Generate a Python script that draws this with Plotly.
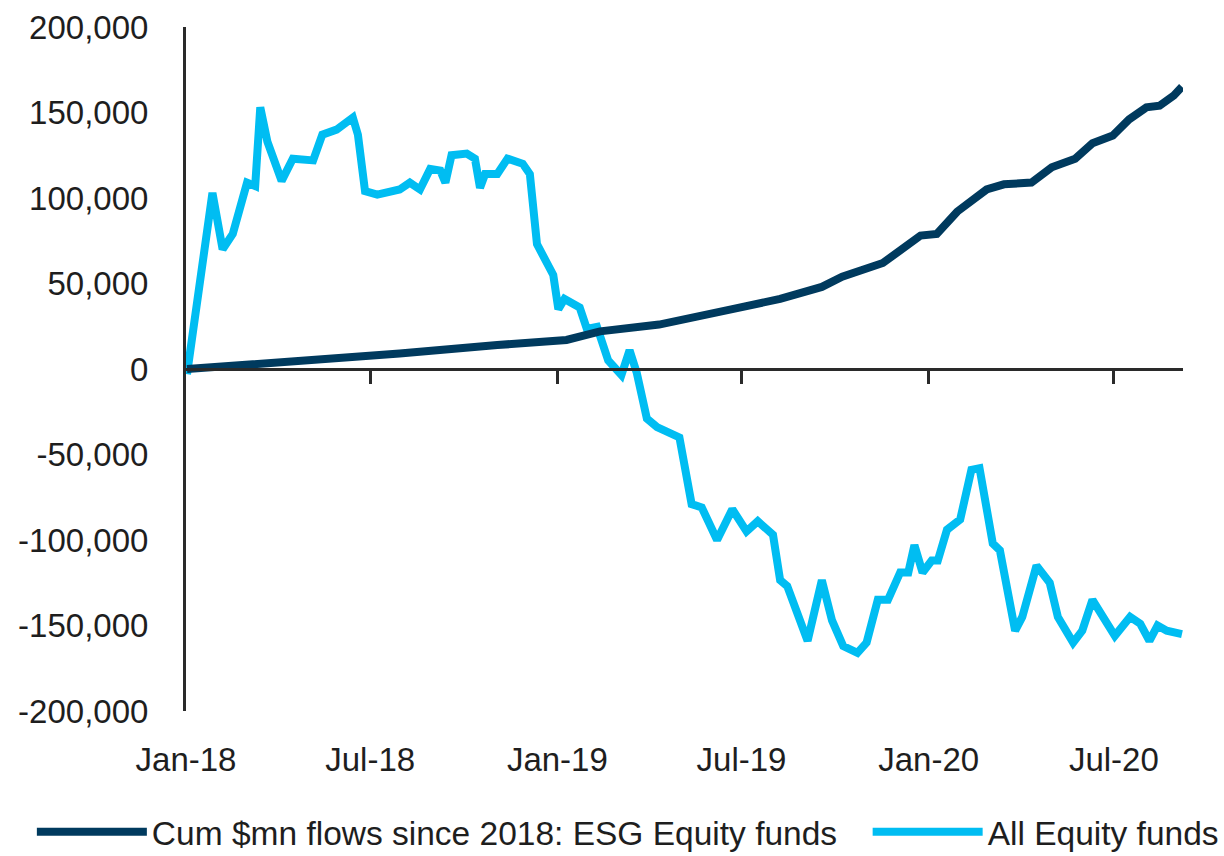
import plotly.graph_objects as go

# ---------------- data ----------------
esg_dates = ["2018-01-02", "2018-04-01", "2018-07-01", "2018-07-30", "2018-11-03",
             "2019-01-10", "2019-02-12", "2019-04-11", "2019-06-22", "2019-08-08",
             "2019-09-18", "2019-10-08", "2019-11-17", "2019-11-30", "2019-12-24",
             "2020-01-09", "2020-01-29", "2020-02-27", "2020-03-15", "2020-04-11",
             "2020-05-01", "2020-05-24", "2020-06-10", "2020-06-30", "2020-07-16",
             "2020-08-02", "2020-08-15", "2020-08-29", "2020-09-06"]
esg_values = [0, 4000, 7000, 9000, 14000,
              17000, 22000, 26000, 35000, 41000,
              48000, 54000, 62000, 68000, 78000,
              79000, 92000, 105000, 108000, 109000,
              118000, 123000, 132000, 136500, 146000,
              153000, 154000, 160000, 165000]

all_dates = ["2018-01-02", "2018-01-27", "2018-02-06", "2018-02-16", "2018-03-02",
             "2018-03-10", "2018-03-15", "2018-03-22", "2018-04-05", "2018-04-16",
             "2018-05-06", "2018-05-15", "2018-05-29", "2018-06-14", "2018-06-19",
             "2018-06-26", "2018-07-08", "2018-07-30", "2018-08-09", "2018-08-19",
             "2018-08-29", "2018-09-08", "2018-09-13", "2018-09-19", "2018-10-04",
             "2018-10-12", "2018-10-17", "2018-10-22", "2018-11-03", "2018-11-13",
             "2018-11-28", "2018-12-05", "2018-12-12", "2018-12-22", "2018-12-28",
             "2019-01-02", "2019-01-08", "2019-01-23", "2019-01-30", "2019-02-09",
             "2019-02-20", "2019-03-05", "2019-03-13", "2019-03-20", "2019-03-30",
             "2019-04-09", "2019-05-01", "2019-05-13", "2019-05-23", "2019-06-07",
             "2019-06-22", "2019-07-06", "2019-07-17", "2019-08-01", "2019-08-08",
             "2019-08-15", "2019-09-04", "2019-09-18", "2019-09-28", "2019-10-09",
             "2019-10-23", "2019-11-01", "2019-11-12", "2019-11-22", "2019-12-04",
             "2019-12-12", "2019-12-18", "2019-12-26", "2020-01-04", "2020-01-10",
             "2020-01-19", "2020-02-01", "2020-02-12", "2020-02-20", "2020-03-04",
             "2020-03-11", "2020-03-26", "2020-04-02", "2020-04-16", "2020-04-29",
             "2020-05-07", "2020-05-22", "2020-05-31", "2020-06-10", "2020-06-19",
             "2020-07-02", "2020-07-17", "2020-07-27", "2020-08-05", "2020-08-13",
             "2020-08-22", "2020-09-06"]
all_values = [-3000, 103000, 70000, 79000, 109000,
              107000, 153000, 133000, 110000, 123000,
              122000, 137000, 140000, 147000, 137000,
              104000, 102000, 105000, 109000, 105000,
              117000, 116000, 109000, 125000, 126000,
              123000, 106000, 114000, 114000, 123000,
              120000, 114000, 73000, 61000, 55000,
              35000, 41000, 36000, 23500, 24700,
              5000, -3500, 11000, -2000, -29000,
              -34000, -40000, -79000, -81000, -100000,
              -82000, -95000, -89000, -97000, -123500,
              -127000, -159000, -123500, -147000, -162000,
              -166000, -160000, -135000, -135000, -119000,
              -119000, -103000, -119000, -112000, -112000,
              -94000, -88000, -59000, -58000, -102000,
              -106000, -153000, -145000, -115000, -125000,
              -145000, -160000, -153000, -135000, -143000,
              -156000, -145000, -149000, -159000, -150000,
              -153000, -155000]

series_names = ["Cum $mn flows since 2018: ESG Equity funds", "All Equity funds"]
series_colors = ["#003A5E", "#00BDF2"]

x_tick_dates = ["2018-01-01", "2018-07-01", "2019-01-01", "2019-07-01", "2020-01-01", "2020-07-01"]
x_tick_labels = ["Jan-18", "Jul-18", "Jan-19", "Jul-19", "Jan-20", "Jul-20"]
y_tick_vals = [200000, 150000, 100000, 50000, 0, -50000, -100000, -150000, -200000]
y_tick_labels = ["200,000", "150,000", "100,000", "50,000", "0", "-50,000", "-100,000", "-150,000", "-200,000"]

# ---------------- figure ----------------
FONT = "Liberation Sans, Arial, sans-serif"
TXT = "#1e1e1e"
AXC = "#2a2a2a"

fig = go.Figure()
fig.add_trace(go.Scatter(x=esg_dates, y=esg_values, mode="lines", name=series_names[0],
                         xaxis="x2", yaxis="y", legend="legend",
                         line=dict(color=series_colors[0], width=8)))
fig.add_trace(go.Scatter(x=all_dates, y=all_values, mode="lines", name=series_names[1],
                         xaxis="x", yaxis="y", legend="legend2",
                         line=dict(color=series_colors[1], width=8)))

x_range = ["2018-01-01", "2020-09-07"]
leg_common = dict(orientation="h", xanchor="left", yanchor="middle", y=-0.1769,
                  itemwidth=110, font=dict(size=33.5, color=TXT),
                  bgcolor="rgba(0,0,0,0)", itemclick=False, itemdoubleclick=False)

fig.update_layout(
    width=1224, height=856,
    margin=dict(l=186, r=41, t=27, b=145, autoexpand=False),
    paper_bgcolor="white", plot_bgcolor="white",
    font=dict(family=FONT, size=33, color=TXT),
    showlegend=True,
    legend=dict(x=-0.1546, **leg_common),
    legend2=dict(x=0.6837, **leg_common),
    xaxis=dict(range=x_range, showgrid=False, zeroline=False, showline=False,
               tickmode="array", tickvals=x_tick_dates, ticktext=x_tick_labels,
               ticks="", ticklabelstandoff=26, tickfont=dict(size=33, color=TXT)),
    xaxis2=dict(matches="x", overlaying="x", anchor="free", position=0.5,
                showgrid=False, zeroline=False, showline=True, linecolor=AXC, linewidth=3,
                tickmode="array", tickvals=x_tick_dates[1:], ticks="outside",
                ticklen=13, tickwidth=3, tickcolor=AXC, showticklabels=False),
    yaxis=dict(range=[-200000, 200000], showgrid=False, zeroline=False,
               showline=True, linecolor=AXC, linewidth=3,
               tickmode="array", tickvals=y_tick_vals, ticktext=y_tick_labels,
               ticks="", ticklabelstandoff=28, tickfont=dict(size=33, color=TXT)),
)

fig.write_html("out.html")
